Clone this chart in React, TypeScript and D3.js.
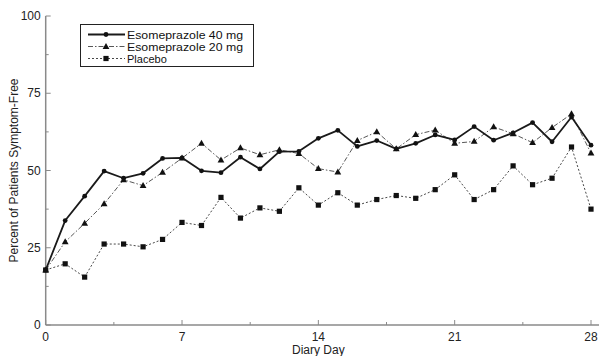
import React, { useEffect, useRef } from "react";
import * as d3 from "d3";

const days = d3.range(0, 29);

const eso40 = [17.8, 33.8, 41.7, 49.8, 47.5, 49.1, 53.9, 54.1, 49.9, 49.3, 54.3, 50.5, 56.1, 56.2, 60.4, 63.0, 57.8, 59.7, 57.0, 58.8, 61.5, 59.9, 64.2, 59.8, 62.2, 65.5, 59.3, 67.3, 58.2];
const eso20 = [17.8, 26.9, 32.9, 39.2, 47.0, 45.1, 49.4, 54.0, 58.8, 53.4, 57.3, 55.1, 56.7, 55.5, 50.6, 49.5, 59.7, 62.5, 57.0, 61.6, 63.1, 58.8, 59.4, 64.1, 61.9, 59.0, 63.9, 68.3, 55.6];
const placebo = [17.8, 19.8, 15.5, 26.2, 26.2, 25.3, 27.7, 33.2, 32.2, 41.3, 34.6, 37.9, 36.8, 44.4, 38.8, 42.8, 38.8, 40.6, 41.9, 41.0, 43.8, 48.6, 40.6, 43.8, 51.5, 45.4, 47.5, 57.6, 37.5];

const seriesNames = ["Esomeprazole 40 mg", "Esomeprazole 20 mg", "Placebo"];
const xTicks = [0, 7, 14, 21, 28];
const yTicks = [0, 25, 50, 75, 100];

const W = 600;
const H = 356;

export default function App() {
  const ref = useRef<SVGSVGElement>(null);

  useEffect(() => {
    const svg = d3.select(ref.current);
    svg.selectAll("*").remove();

    const margin = { top: 16, right: 9, bottom: 31, left: 45.7 };
    const x = d3.scaleLinear().domain([0, 28]).range([margin.left, W - margin.right]);
    const y = d3.scaleLinear().domain([0, 100]).range([H - margin.bottom, margin.top]);
    const font = "'Liberation Sans', Arial, Helvetica, sans-serif";
    const axisColor = "#8a8a8a";

    // axes (ticks point inward)
    const gx = svg.append("g").attr("transform", `translate(0,${y(0)})`);
    gx.append("line").attr("x1", x(0)).attr("x2", 599).attr("stroke", axisColor).attr("stroke-width", 1.5);
    d3.range(0, 28.1, 3.5).forEach(t => {
      const major = t % 7 === 0;
      gx.append("line").attr("x1", x(t)).attr("x2", x(t)).attr("y1", 0).attr("y2", major ? -5 : -3)
        .attr("stroke", axisColor).attr("stroke-width", 1);
    });
    gx.selectAll("text.tick").data(xTicks).join("text")
      .attr("x", d => x(d)).attr("y", 16).attr("text-anchor", "middle")
      .style("font-family", font).style("font-size", "12px").attr("fill", "#222").text(d => d);

    const gy = svg.append("g").attr("transform", `translate(${x(0)},0)`);
    gy.append("line").attr("y1", y(0)).attr("y2", y(100)).attr("stroke", axisColor).attr("stroke-width", 1.5);
    d3.range(0, 100.1, 12.5).forEach(t => {
      const major = t % 25 === 0;
      gy.append("line").attr("y1", y(t)).attr("y2", y(t)).attr("x1", 0).attr("x2", major ? 5 : 3)
        .attr("stroke", axisColor).attr("stroke-width", 1);
    });
    gy.selectAll("text.tick").data(yTicks).join("text")
      .attr("x", -5).attr("y", d => y(d) + 4).attr("text-anchor", "end")
      .style("font-family", font).style("font-size", "12px").attr("fill", "#222").text(d => d);

    svg.append("text")
      .attr("transform", `translate(18,${(y(0) + y(100)) / 2}) rotate(-90)`)
      .attr("text-anchor", "middle").style("font-family", font).style("font-size", "12px")
      .attr("fill", "#222").text("Percent of Patients Symptom-Free");
    svg.append("text")
      .attr("x", (x(0) + x(28)) / 2).attr("y", 354).attr("text-anchor", "middle")
      .style("font-family", font).style("font-size", "12px").attr("fill", "#222").text("Diary Day");

    const line = d3.line<number>().x((_, i) => x(days[i])).y(d => y(d));

    const styles = [
      { data: eso40, stroke: "#1a1a1a", width: 1.8, dash: "", marker: "circle" },
      { data: eso20, stroke: "#444", width: 0.9, dash: "5 2 1.5 2", marker: "triangle" },
      { data: placebo, stroke: "#333", width: 0.9, dash: "2 2", marker: "square" },
    ];

    const drawMarker = (g: any, kind: string, cx: number, cy: number) => {
      if (kind === "circle") {
        g.append("circle").attr("cx", cx).attr("cy", cy).attr("r", 2.4).attr("fill", "#111");
      } else if (kind === "triangle") {
        g.append("path").attr("d", `M${cx},${cy - 3.6}L${cx + 3.4},${cy + 2.4}L${cx - 3.4},${cy + 2.4}Z`).attr("fill", "#111");
      } else {
        g.append("rect").attr("x", cx - 2.6).attr("y", cy - 2.6).attr("width", 5.2).attr("height", 5.2).attr("fill", "#111");
      }
    };

    // draw placebo first, then 20, then 40 on top
    [2, 1, 0].forEach(k => {
      const s = styles[k];
      const g = svg.append("g");
      g.append("path").attr("d", line(s.data)).attr("fill", "none")
        .attr("stroke", s.stroke).attr("stroke-width", s.width)
        .attr("stroke-dasharray", s.dash || null).attr("stroke-linejoin", "round");
      s.data.forEach((v, i) => drawMarker(g, s.marker, x(days[i]), y(v)));
    });

    // legend
    const lg = svg.append("g");
    lg.append("rect").attr("x", 80.5).attr("y", 24.5).attr("width", 173).attr("height", 42)
      .attr("fill", "#fff").attr("stroke", "#222").attr("stroke-width", 1);
    styles.forEach((s, i) => {
      const ly = 34.5 + i * 12;
      lg.append("line").attr("x1", 88).attr("x2", 125).attr("y1", ly).attr("y2", ly)
        .attr("stroke", s.stroke).attr("stroke-width", s.width).attr("stroke-dasharray", s.dash || null);
      drawMarker(lg, s.marker, 106, ly);
      const t = lg.append("text").attr("x", 127).attr("y", ly + 4)
        .style("font-family", font).style("font-size", "11px").attr("fill", "#111").text(seriesNames[i]);
      if (i < 2) t.attr("textLength", 116).attr("lengthAdjust", "spacingAndGlyphs");
    });
  }, []);

  return <svg ref={ref} width={W} height={H} style={{ position: "absolute", left: 0, top: 0, background: "#fff" }} />;
}
